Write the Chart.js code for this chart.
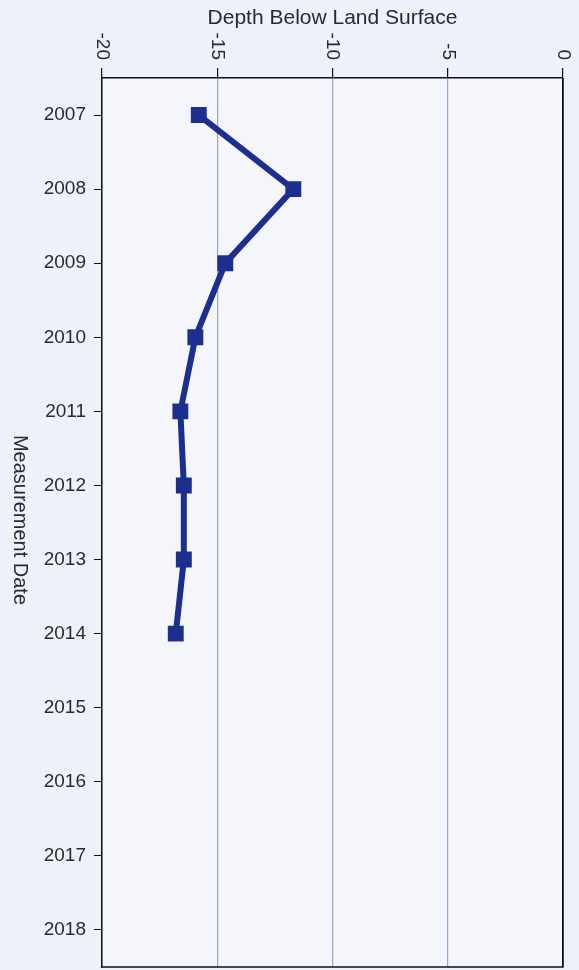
<!DOCTYPE html>
<html>
<head>
<meta charset="utf-8">
<script src="https://cdn.jsdelivr.net/npm/chart.js@4.4.0/dist/chart.umd.min.js"></script>
<style>
  html, body { margin: 0; padding: 0; background: #edf1f9; }
  #wrap { width: 579px; height: 970px; }
</style>
</head>
<body>
<div id="wrap"><canvas id="pozo" width="579" height="970"></canvas></div>
<script>
// datos
var years  = [2007, 2008, 2009, 2010, 2011, 2012, 2013, 2014];
var depths = [-15.8, -11.7, -14.65, -15.95, -16.6, -16.45, -16.45, -16.8];
var depthTicks = [-20, -15, -10, -5, 0];
var yearTicks  = [2007, 2008, 2009, 2010, 2011, 2012, 2013, 2014, 2015, 2016, 2017, 2018];
var xTitle = "Depth Below Land Surface";
var yTitle = "Measurement Date";

var navy = '#1c2f8f';
var fuente = '"Liberation Sans", Arial, sans-serif';

var puntos = [];
for (var i = 0; i < years.length; i++) {
	puntos.push({x: depths[i], y: years[i]});
}

var etiquetas = {
	id: 'etiquetas',
	beforeDraw: function(chart){
		var ctx = chart.ctx, a = chart.chartArea;
		ctx.save();
		ctx.fillStyle = '#edf1f9';
		ctx.fillRect(0, 0, chart.width, chart.height);
		ctx.fillStyle = '#f4f6fc';
		ctx.fillRect(a.left, a.top, a.right - a.left, a.bottom - a.top);
		ctx.restore();
	},
	afterDraw: function(chart){
		var ctx = chart.ctx, a = chart.chartArea;
		var sx = chart.scales.x;
		ctx.save();
		// marco derecho e inferior
		ctx.strokeStyle = '#111';
		ctx.lineWidth = 1.5;
		ctx.beginPath();
		ctx.moveTo(a.right, a.top);
		ctx.lineTo(a.right, a.bottom);
		ctx.lineTo(a.left, a.bottom);
		ctx.stroke();

		ctx.fillStyle = '#2a2a2a';
		ctx.font = '21px ' + fuente;
		ctx.textAlign = 'center';
		ctx.textBaseline = 'middle';
		ctx.fillText(xTitle, (a.left + a.right) / 2, 18);

		// etiquetas del eje x giradas
		ctx.font = '19px ' + fuente;
		for (var i = 0; i < depthTicks.length; i++) {
			var px = sx.getPixelForValue(depthTicks[i]);
			ctx.save();
			ctx.translate(px, 60);
			ctx.rotate(Math.PI / 2);
			ctx.textAlign = 'right';
			ctx.textBaseline = 'middle';
			ctx.fillText(String(depthTicks[i]), 0, 0);
			ctx.restore();
		}

		ctx.save();
		ctx.font = '20px ' + fuente;
		ctx.translate(20, 520);
		ctx.rotate(Math.PI / 2);
		ctx.textAlign = 'center';
		ctx.textBaseline = 'middle';
		ctx.fillText(yTitle, 0, 0);
		ctx.restore();
		ctx.restore();
	}
};

var grafico = new Chart(document.getElementById('pozo'), {
	type: 'line',
	data: {
		datasets: [{
			data: puntos,
			borderColor: navy,
			backgroundColor: navy,
			borderWidth: 6,
			pointStyle: 'rect',
			pointRadius: 7,
			pointHoverRadius: 7,
			tension: 0
		}]
	},
	options: {
		responsive: false,
		animation: false,
		layout: { autoPadding: false, padding: { left: 0, top: 0, right: 16, bottom: 3 } },
		plugins: { legend: { display: false }, tooltip: { enabled: false } },
		scales: {
			x: {
				type: 'linear',
				position: 'top',
				min: -20,
				max: 0,
				afterBuildTicks: function(s){ s.ticks = depthTicks.map(function(v){ return {value: v}; }); },
				afterFit: function(s){ s.height = 78; s.paddingLeft = 0; s.paddingRight = 0; },
				ticks: { display: false },
				grid: {
					color: function(c){ return c.tick && c.tick.value === 0 ? '#111' : '#9fa2c8'; },
					lineWidth: 1.2,
					tickLength: 10,
					tickColor: '#111'
				},
				border: { color: '#111', width: 1.5 }
			},
			y: {
				type: 'linear',
				reverse: true,
				min: 2006.5,
				max: 2018.5,
				afterBuildTicks: function(s){ s.ticks = yearTicks.map(function(v){ return {value: v}; }); },
				afterFit: function(s){ s.width = 102; s.paddingTop = 0; s.paddingBottom = 0; },
				ticks: {
					color: '#2a2a2a',
					font: { family: fuente, size: 19 },
					padding: 8,
					callback: function(v){ return String(v); }
				},
				grid: {
					drawOnChartArea: false,
					tickLength: 8,
					tickColor: '#111'
				},
				border: { color: '#111', width: 1.5 }
			}
		}
	},
	plugins: [etiquetas]
});
</script>
</body>
</html>
